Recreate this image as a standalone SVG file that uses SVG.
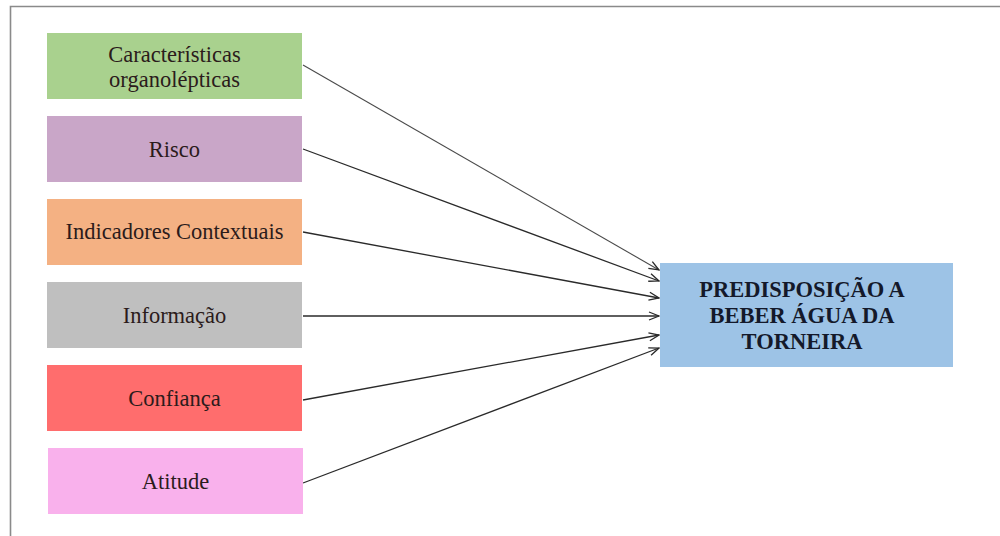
<svg xmlns="http://www.w3.org/2000/svg" width="1000" height="536" viewBox="0 0 1000 536">
  <style>
    .box { stroke: none; }
    .lbl { font-family: "Liberation Serif", "Times New Roman", serif; font-size: 22.5px; fill: #2b1b1b; text-anchor: middle; }
    .ttl { font-family: "Liberation Serif", "Times New Roman", serif; font-size: 22.5px; font-weight: bold; fill: #14192a; text-anchor: middle; }
    .edge { stroke: #2a2a2a; stroke-width: 1.3; fill: none; marker-end: url(#arrow); }
  </style>
  <defs>
    <marker id="arrow" viewBox="0 0 12 10" refX="11" refY="5" markerWidth="12" markerHeight="10" markerUnits="userSpaceOnUse" orient="auto">
      <path d="M1,1 L11,5 L1,9" fill="none" stroke="#2a2a2a" stroke-width="1.3"/>
    </marker>
  </defs>

  <rect width="1000" height="536" fill="#ffffff"/>
  <!-- outer frame (left and top edges) -->
  <path d="M10.5,536 V6.5 H1000" fill="none" stroke="#8a8a8a" stroke-width="1.6"/>

  <g id="connectors">
    <line class="edge" x1="303" y1="65" x2="659" y2="270" style="stroke:#4a4a4a;stroke-width:1.1"/>
    <line class="edge" x1="303" y1="149" x2="659" y2="281"/>
    <line class="edge" x1="303" y1="232" x2="659" y2="298"/>
    <line class="edge" x1="303" y1="316" x2="659" y2="316"/>
    <line class="edge" x1="303" y1="400" x2="659" y2="335"/>
    <line class="edge" x1="303" y1="483" x2="659" y2="348"/>
  </g>

  <g id="organolepticas">
    <rect class="box" x="47" y="33" width="255" height="66" fill="#a9d18e"/>
    <text class="lbl" x="174.5" y="62">Características</text>
    <text class="lbl" x="174.5" y="87">organolépticas</text>
  </g>
  <g id="risco">
    <rect class="box" x="47" y="116" width="255" height="66" fill="#c9a6c8"/>
    <text class="lbl" x="174.5" y="157">Risco</text>
  </g>
  <g id="indicadores">
    <rect class="box" x="47" y="199" width="255" height="66" fill="#f4b183"/>
    <text class="lbl" x="174.5" y="239">Indicadores Contextuais</text>
  </g>
  <g id="informacao">
    <rect class="box" x="47" y="282" width="255" height="66" fill="#bfbfbf"/>
    <text class="lbl" x="174.5" y="323">Informação</text>
  </g>
  <g id="confianca">
    <rect class="box" x="47" y="365" width="255" height="66" fill="#ff6d6d"/>
    <text class="lbl" x="174.5" y="406">Confiança</text>
  </g>
  <g id="atitude">
    <rect class="box" x="48" y="448" width="255" height="66" fill="#f9b1ec"/>
    <text class="lbl" x="175.5" y="489">Atitude</text>
  </g>

  <g id="predisposicao">
    <rect class="box" x="660" y="263" width="293" height="104" fill="#9dc3e6"/>
    <text class="ttl" x="802" y="297">PREDISPOSIÇÃO A</text>
    <text class="ttl" x="802" y="323">BEBER ÁGUA DA</text>
    <text class="ttl" x="802" y="349">TORNEIRA</text>
  </g>
</svg>
